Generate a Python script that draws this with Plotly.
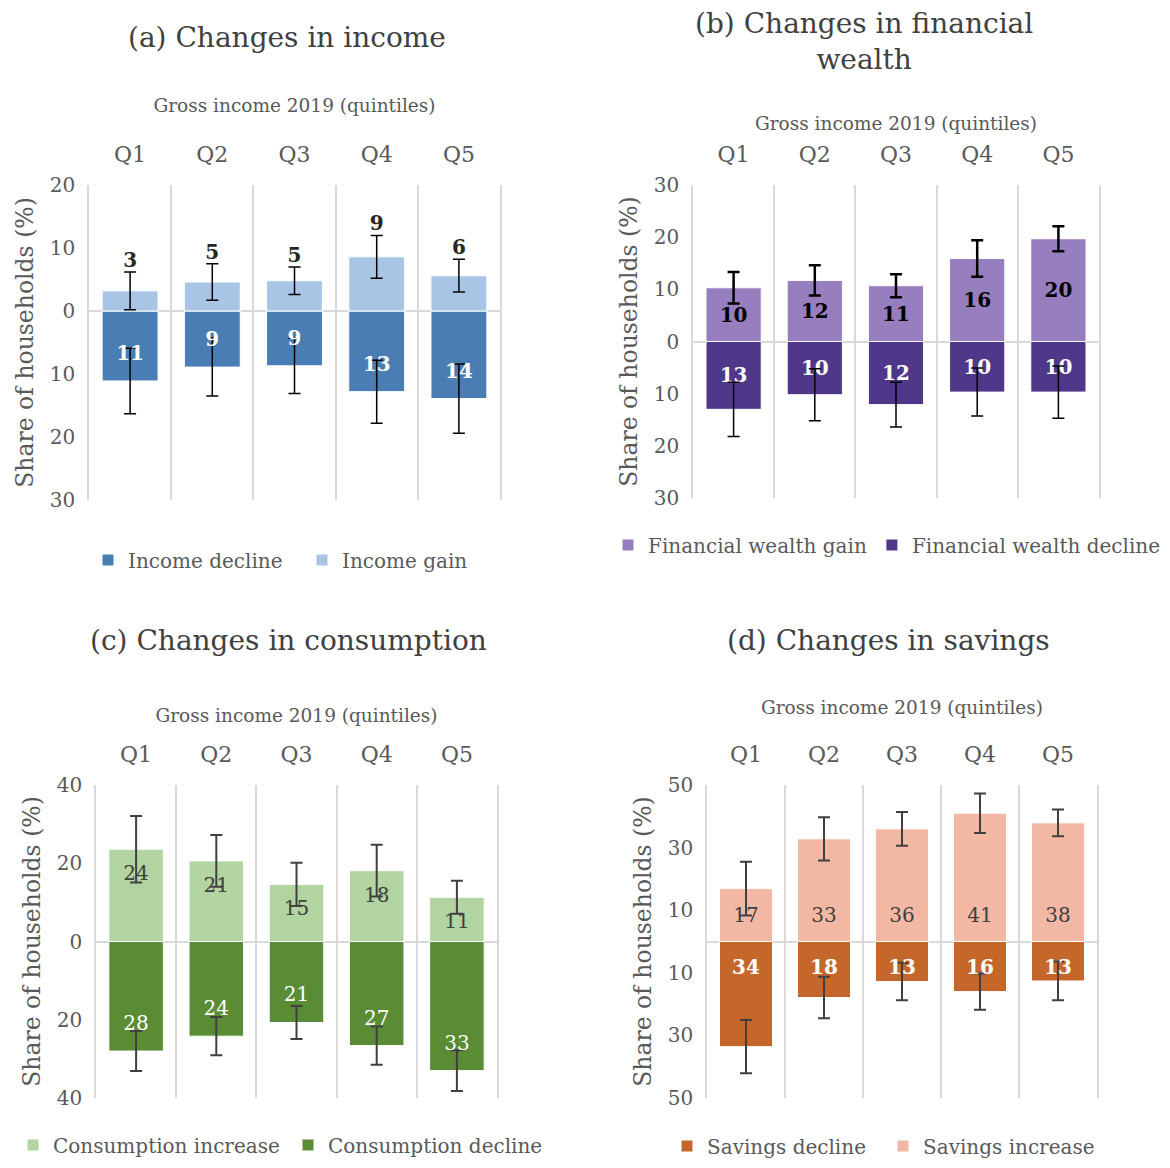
import plotly.graph_objects as go

# Quintiles of gross income 2019
quintiles = ["Q1", "Q2", "Q3", "Q4", "Q5"]

# (a) income
income_decline = [11.1, 8.9, 8.7, 12.8, 13.9]
income_decline_err = [5.2, 4.6, 4.4, 5.0, 5.5]
income_gain = [3.2, 4.6, 4.8, 8.6, 5.6]
income_gain_err = [3.0, 2.9, 2.2, 3.4, 2.6]

# (b) financial wealth
wealth_gain = [10.3, 11.7, 10.7, 15.9, 19.7]
wealth_gain_err = [3.0, 2.9, 2.2, 3.5, 2.4]
wealth_decline = [13.0, 10.2, 12.1, 9.7, 9.7]
wealth_decline_err = [5.2, 5.0, 4.3, 4.6, 5.0]

# (c) consumption
cons_increase = [23.6, 20.6, 14.6, 18.1, 11.3]
cons_increase_err = [8.5, 6.6, 5.5, 6.6, 4.2]
cons_decline = [28.0, 24.2, 20.7, 26.6, 33.0]
cons_decline_err = [5.1, 4.9, 4.2, 4.9, 5.2]

# (d) savings
sav_decline = [33.6, 17.9, 12.8, 16.0, 12.6]
sav_decline_err = [8.5, 6.6, 6.0, 5.8, 6.2]
sav_increase = [16.9, 32.8, 36.0, 41.0, 37.9]
sav_increase_err = [8.6, 6.9, 5.4, 6.3, 4.3]

# y ticks per panel (labels are shown as absolute values)
ticks_a = [-30, -20, -10, 0, 10, 20]
ticks_b = [-30, -20, -10, 0, 10, 20, 30]
ticks_c = [-40, -20, 0, 20, 40]
ticks_d = [-50, -30, -10, 10, 30, 50]

FONT = "DejaVu Serif"
GREY = "#595959"
DARK = "#404040"
GRID = "#d9d9d9"

# page is offset by the 8px body margin, so size the figure to fit
W, H, OFF = 1154, 1152, 8


def px(x):
    return (x - OFF) / W


def py(y):
    return 1 - (y - OFF) / H


# plot areas in screen pixels: (left, right, top, bottom)
BOXES = {
    1: (89, 500, 185, 500),
    2: (693, 1099, 185, 498),
    3: (96, 497, 785, 1098),
    4: (707, 1097, 785, 1098),
}
RANGES = {1: ticks_a, 2: ticks_b, 3: ticks_c, 4: ticks_d}

fig = go.Figure()


def suffix(n):
    return "" if n == 1 else str(n)


def add_bars(n, name, values, errors, color, sign, mid_labels=None,
             err_color="black", err_thick=1.5):
    ax = suffix(n)
    fig.add_trace(go.Bar(
        x=quintiles,
        y=[sign * v for v in values],
        name=name,
        marker=dict(color=color, line=dict(color="white", width=1)),
        error_y=dict(type="data", array=errors, color=err_color,
                     thickness=err_thick, width=6),
        text=[f"{v:.0f}" for v in values] if mid_labels else None,
        textposition="inside" if mid_labels else "none",
        insidetextanchor="middle",
        textangle=0,
        constraintext="none",
        textfont=dict(family=FONT, size=20, color=mid_labels or "black",
                      weight="bold"),
        hoverinfo="x+y+name",
        xaxis="x" + ax, yaxis="y" + ax, legend="legend" + ax,
    ))


def add_labels(n, values, ys, color, bold=False, position="middle center"):
    ax = suffix(n)
    fig.add_trace(go.Scatter(
        x=quintiles, y=ys, mode="text",
        text=[f"{v:.0f}" for v in values],
        textposition=position,
        textfont=dict(family=FONT, size=20, color=color,
                      weight="bold" if bold else "normal"),
        showlegend=False, hoverinfo="skip",
        xaxis="x" + ax, yaxis="y" + ax,
    ))


def units(n, pixels):
    # convert a pixel offset into data units of panel n
    top, bottom = BOXES[n][2], BOXES[n][3]
    span = RANGES[n][-1] - RANGES[n][0]
    return pixels * span / (bottom - top)


# (a) Changes in income
add_bars(1, "Income decline", income_decline, income_decline_err,
         "#4a7db3", -1)
add_bars(1, "Income gain", income_gain, income_gain_err, "#a9c5e6", 1)
add_labels(1, income_decline, [-v + units(1, 26) for v in income_decline],
           "white", bold=True)
add_labels(1, income_gain, [g + e for g, e in zip(income_gain, income_gain_err)],
           "#262626", bold=True, position="top center")

# (b) Changes in financial wealth
add_bars(2, "Financial wealth gain", wealth_gain, wealth_gain_err,
         "#977ebf", 1, mid_labels="black", err_thick=2.5)
add_bars(2, "Financial wealth decline", wealth_decline, wealth_decline_err,
         "#4f3889", -1, mid_labels="white")

# (c) Changes in consumption
add_bars(3, "Consumption increase", cons_increase, cons_increase_err,
         "#b1d4a1", 1, err_color=DARK, err_thick=2)
add_bars(3, "Consumption decline", cons_decline, cons_decline_err,
         "#5a8c35", -1, err_color=DARK, err_thick=2)
add_labels(3, cons_increase, [v - units(3, 26) for v in cons_increase], DARK)
add_labels(3, cons_decline, [-v + units(3, 26) for v in cons_decline], "white")

# (d) Changes in savings
add_bars(4, "Savings decline", sav_decline, sav_decline_err,
         "#c5662a", -1, err_color=DARK, err_thick=2)
add_bars(4, "Savings increase", sav_increase, sav_increase_err,
         "#f3b8a3", 1, err_color=DARK, err_thick=2)
add_labels(4, sav_increase, [units(4, 25)] * len(sav_increase), DARK)
add_labels(4, sav_decline, [-units(4, 27)] * len(sav_decline), "white",
           bold=True)


def axes(n, xstand):
    ax = suffix(n)
    left, right, top, bottom = BOXES[n]
    ticks = RANGES[n]
    xa = dict(
        domain=[px(left), px(right)], anchor="y" + ax, side="top",
        type="category",
        tickson="boundaries", showgrid=True, gridcolor=GRID, gridwidth=1.5,
        ticks="", showline=False, zeroline=False, ticklabelstandoff=18,
        tickfont=dict(family=FONT, size=22, color=GREY),
        title=dict(text="Gross income 2019 (quintiles)", standoff=xstand,
                   font=dict(family=FONT, size=18.5, color=GREY)),
    )
    # the y axis line (mirrored) gives the outer vertical grid lines
    ya = dict(
        domain=[py(bottom), py(top)], anchor="x" + ax,
        range=[ticks[0], ticks[-1]],
        tickvals=ticks, ticktext=[str(abs(t)) for t in ticks],
        showgrid=False, zeroline=True, zerolinecolor=GRID, zerolinewidth=2,
        showline=True, mirror=True, linecolor=GRID, linewidth=1.5,
        ticks="", ticklabelstandoff=8,
        tickfont=dict(family=FONT, size=20, color=GREY),
        title=dict(text="Share of households (%)", standoff=10,
                   font=dict(family=FONT, size=23.5, color=GREY)),
    )
    fig.update_layout({"xaxis" + ax: xa, "yaxis" + ax: ya})


axes(1, 24)
axes(2, 6)
axes(3, 14)
axes(4, 22)

titles = [
    ("(a) Changes in income", 287, 37),
    ("(b) Changes in financial<br>wealth", 864, 42),
    ("(c) Changes in consumption", 288, 640),
    ("(d) Changes in savings", 888, 640),
]
for text, x, y in titles:
    fig.add_annotation(text=text, x=px(x), y=py(y), xref="paper", yref="paper",
                       showarrow=False, xanchor="center", yanchor="middle",
                       font=dict(family=FONT, size=28, color=DARK))

legend_style = dict(orientation="h", xanchor="left", yanchor="middle",
                    font=dict(family=FONT, size=20, color=GREY),
                    bgcolor="rgba(0,0,0,0)", itemwidth=30)
fig.update_layout(
    legend=dict(legend_style, x=px(128 - 40), y=py(560), entrywidth=169),
    legend2=dict(legend_style, x=px(648 - 40), y=py(545)),
    legend3=dict(legend_style, x=px(53 - 40), y=py(1145), entrywidth=230),
    legend4=dict(legend_style, x=px(707 - 40), y=py(1146), entrywidth=171),
)

fig.update_layout(
    barmode="relative",
    bargap=0.32,
    width=W, height=H,
    margin=dict(l=0, r=0, t=0, b=0, autoexpand=False),
    plot_bgcolor="white", paper_bgcolor="white",
    font=dict(family=FONT, color=GREY),
)

fig.write_html("out.html")
